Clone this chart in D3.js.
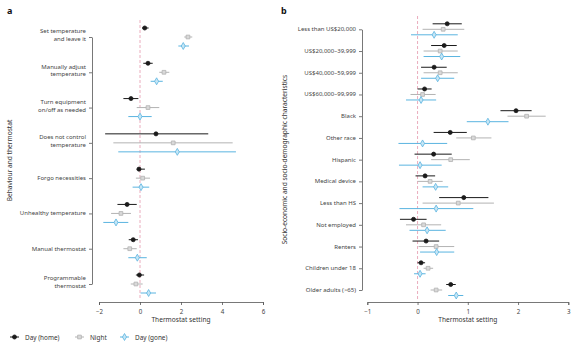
<!DOCTYPE html>
<html lang="en">
<head>
    <meta charset="UTF-8">
    <title>Thermostat setting</title>
    <script src="https://d3js.org/d3.v7.min.js"></script>
    <style>
        body { margin: 0; background: #fff; }
        svg { font-family: "Noto Sans", sans-serif; }
    </style>
</head>
<body>
    <svg id="chart" width="582" height="350"></svg>
    <script>
        // panel a
        const behaviours = [
            ["Set temperature", "and leave it"],
            ["Manually adjust", "temperature"],
            ["Turn equipment", "on/off as needed"],
            ["Does not control", "temperature"],
            ["Forgo necessities"],
            ["Unhealthy temperature"],
            ["Manual thermostat"],
            ["Programmable", "thermostat"]
        ];
        // [estimate, low, high]
        const homeA = [[0.23, 0.1, 0.42], [0.39, 0.16, 0.62], [-0.44, -0.81, -0.08], [0.78, -1.7, 3.33],
            [-0.05, -0.16, 0.24], [-0.63, -1.1, -0.16], [-0.33, -0.55, -0.1], [-0.03, -0.2, 0.2]];
        const nightA = [[2.34, 2.16, 2.55], [1.17, 0.94, 1.43], [0.39, -0.16, 0.94], [1.62, -1.3, 4.52],
            [0.13, -0.2, 0.49], [-0.93, -1.41, -0.44], [-0.5, -0.81, -0.16], [-0.2, -0.45, 0.13]];
        const goneA = [[2.11, 1.87, 2.39], [0.81, 0.52, 1.11], [0, -0.57, 0.57], [1.82, -1.06, 4.68],
            [0.05, -0.36, 0.45], [-1.17, -1.79, -0.57], [-0.13, -0.57, 0.33], [0.42, 0.03, 0.78]];
        const ticksA = [-2, 0, 2, 4, 6];

        // panel b
        const groups = ["Less than US$20,000", "US$20,000\u201339,999", "US$40,000\u201359,999", "US$60,000\u201399,999",
            "Black", "Other race", "Hispanic", "Medical device", "Less than HS", "Not employed", "Renters",
            "Children under 18", "Older adults (>65)"];
        const homeB = [[0.59, 0.3, 0.88], [0.53, 0.27, 0.78], [0.33, 0.07, 0.58], [0.14, 0, 0.28],
            [1.96, 1.65, 2.27], [0.65, 0.32, 0.98], [0.32, -0.06, 0.68], [0.15, -0.04, 0.35],
            [0.92, 0.43, 1.41], [-0.08, -0.35, 0.18], [0.17, -0.1, 0.43], [0.07, 0, 0.15], [0.66, 0.57, 0.76]];
        const nightB = [[0.51, 0.1, 0.93], [0.45, 0.12, 0.8], [0.45, 0.12, 0.8], [0.1, -0.14, 0.36],
            [2.17, 1.79, 2.55], [1.11, 0.77, 1.47], [0.66, 0.27, 1.04], [0.25, 0, 0.5],
            [0.81, 0.1, 1.52], [0.12, -0.23, 0.47], [0.37, 0.02, 0.73], [0.21, 0.12, 0.31], [0.37, 0.26, 0.49]];
        const goneB = [[0.33, -0.13, 0.8], [0.48, 0.12, 0.85], [0.4, 0.07, 0.73], [0.07, -0.23, 0.37],
            [1.4, 0.98, 1.81], [0.1, -0.38, 0.59], [0.05, -0.37, 0.48], [0.36, 0.1, 0.61],
            [0.37, -0.36, 1.11], [0.19, -0.16, 0.56], [0.38, 0.05, 0.73], [0.05, -0.07, 0.16], [0.77, 0.61, 0.91]];
        const ticksB = [-1, 0, 1, 2, 3];

        const series = [
            { name: "Day (home)", color: "#1a1a1a", fill: "#1a1a1a", shape: d3.symbolCircle, size: 13 },
            { name: "Night", color: "#b3b3b3", fill: "#d9d9d9", shape: d3.symbolSquare, size: 14 },
            { name: "Day (gone)", color: "#5ab4e0", fill: "#c6e6f6", shape: d3.symbolDiamond, size: 14 }
        ];

        const svg = d3.select("#chart");
        const axisY = 302;

        function panel(opts) {
            const g = svg.append("g");
            const x = d3.scaleLinear().domain(opts.xdomain).range(opts.xrange);
            const y = d3.scalePoint().domain(d3.range(opts.cats.length)).range(opts.yrange);

            // zero line
            g.append("line")
                .attr("x1", x(0)).attr("x2", x(0))
                .attr("y1", opts.zeroTop).attr("y2", axisY - 2)
                .attr("stroke", "#e8a3b5").attr("stroke-width", 0.9)
                .attr("stroke-dasharray", "3,2");

            // x axis
            const xa = g.append("g")
                .attr("transform", `translate(0,${axisY})`)
                .call(d3.axisBottom(x).tickValues(opts.ticks).tickSize(3).tickFormat(d => d < 0 ? "\u2212" + Math.abs(d) : d));
            xa.select(".domain").attr("stroke", "#555").attr("stroke-width", 0.8);
            xa.selectAll(".tick line").attr("stroke", "#555").attr("stroke-width", 0.8);
            xa.selectAll(".tick text").attr("font-size", 6.2).attr("fill", "#444").attr("font-family", "Noto Sans").attr("dy", "0.95em");

            // y axis
            const ya = g.append("g")
                .attr("transform", `translate(${opts.yaxisX},0)`)
                .call(d3.axisLeft(y).tickSize(3).tickSizeOuter(0).tickFormat(""));
            ya.select(".domain").attr("stroke", "#555").attr("stroke-width", 0.8);
            ya.selectAll(".tick line").attr("stroke", "#555").attr("stroke-width", 0.8);

            // category labels
            opts.cats.forEach((c, i) => {
                const lines = Array.isArray(c) ? c : [c];
                const t = g.append("text")
                    .attr("y", y(i) - (lines.length - 1) * 5.6)
                    .attr("text-anchor", "end")
                    .attr("dominant-baseline", "central")
                    .attr("font-size", 6).attr("fill", "#444");
                lines.forEach((l, k) => {
                    t.append("tspan").attr("x", opts.yaxisX - 6).attr("dy", k === 0 ? 0 : 7.6).text(l);
                });
            });

            // points and intervals
            opts.data.forEach((vals, s) => {
                const st = series[s];
                const off = (s - 1) * opts.offset;
                g.selectAll(null).data(vals).join("line")
                    .attr("x1", d => x(d[1])).attr("x2", d => x(d[2]))
                    .attr("y1", (d, i) => y(i) + off).attr("y2", (d, i) => y(i) + off)
                    .attr("stroke", st.color).attr("stroke-width", 1);
                g.selectAll(null).data(vals).join("path")
                    .attr("d", d3.symbol().type(st.shape).size(st.size))
                    .attr("transform", (d, i) => `translate(${x(d[0])},${y(i) + off})`)
                    .attr("fill", st.fill).attr("stroke", st.color).attr("stroke-width", 0.8);
            });

            // axis titles
            g.append("text")
                .attr("x", (opts.xrange[0] + opts.xrange[1]) / 2).attr("y", 322)
                .attr("text-anchor", "middle").attr("font-size", 6.6).attr("fill", "#333")
                .text("Thermostat setting");
            g.append("text")
                .attr("transform", `translate(${opts.ytitleX},${(opts.yrange[0] + opts.yrange[1]) / 2}) rotate(-90)`)
                .attr("text-anchor", "middle").attr("font-size", 6.6).attr("fill", "#333")
                .text(opts.ytitle);
            g.append("text")
                .attr("x", opts.letterX).attr("y", 14)
                .attr("font-size", 9).attr("font-weight", "bold").attr("fill", "#111")
                .text(opts.letter);
        }

        panel({
            cats: behaviours, data: [homeA, nightA, goneA], ticks: ticksA,
            xdomain: [-2, 6], xrange: [99, 263], yrange: [37, 284], yaxisX: 92, offset: 9,
            zeroTop: 20, ytitleX: 12, ytitle: "Behaviour and thermostat", letter: "a", letterX: 7
        });
        panel({
            cats: groups, data: [homeB, nightB, goneB], ticks: ticksB,
            xdomain: [-1, 3], xrange: [367.3, 568.3], yrange: [29.3, 290], yaxisX: 362, offset: 5.5,
            zeroTop: 16, ytitleX: 287, ytitle: "Socio-economic and socio-demographic characteristics", letter: "b", letterX: 281
        });

        // legend
        const legend = svg.append("g").attr("transform", "translate(10,337)");
        const legendX = [0, 65, 110];
        series.forEach((st, i) => {
            const lg = legend.append("g").attr("transform", `translate(${legendX[i]},0)`);
            lg.append("line").attr("x1", 0).attr("x2", 9).attr("stroke", st.color).attr("stroke-width", 1);
            lg.append("path").attr("d", d3.symbol().type(st.shape).size(st.size))
                .attr("transform", "translate(4.5,0)")
                .attr("fill", st.fill).attr("stroke", st.color).attr("stroke-width", 0.8);
            lg.append("text").attr("x", 15).attr("y", 0).attr("dominant-baseline", "central")
                .attr("font-size", 6.4).attr("fill", "#333").text(st.name);
        });
    </script>
</body>
</html>
